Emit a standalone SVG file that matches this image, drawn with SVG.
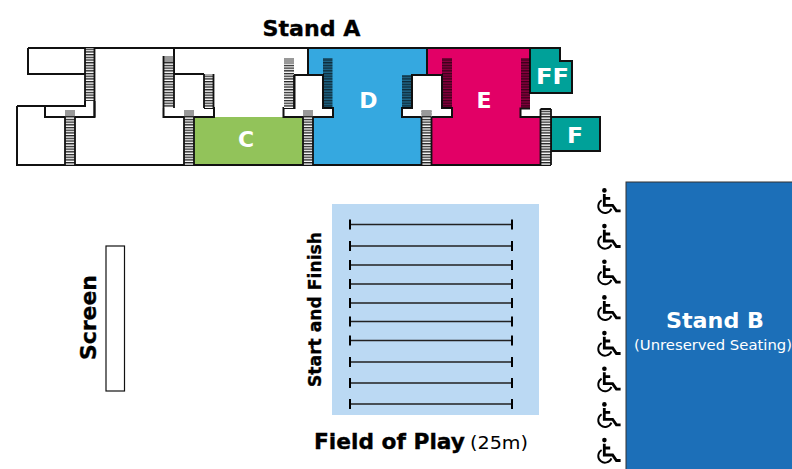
<svg xmlns="http://www.w3.org/2000/svg" width="792" height="469" viewBox="0 0 792 469">
<style>
text{font-family:"DejaVu Sans","Liberation Sans",sans-serif;font-weight:700}
.t{fill:#000;stroke:#000;stroke-width:.35}.w{fill:#fff}
.o{fill:none;stroke:#111;stroke-width:2}
.sw{fill:url(#stw);stroke:none}
.sc{fill:url(#st);stroke:none}
.side{fill:none;stroke:#111;stroke-width:1.8}
.fade{fill:#999}
.lane{stroke:#222;stroke-width:1.7;fill:none}
.tick{stroke:#000;stroke-width:2;fill:none}
</style>
<defs>
<pattern id="st" width="10" height="2.7" patternUnits="userSpaceOnUse"><rect width="10" height="2.7" fill="#000" fill-opacity=".38"/><rect width="10" height="1.3" fill="#000" fill-opacity=".6"/></pattern>
<pattern id="stw" width="10" height="2.7" patternUnits="userSpaceOnUse"><rect width="10" height="2.7" fill="#fff"/><rect width="10" height="1.35" fill="#222"/></pattern>
<symbol id="wc" width="26" height="29" viewBox="0 0 26 29" overflow="visible">
<circle cx="8.4" cy="2.4" r="2.3" fill="#000"/>
<path d="M8.3 6V17.3H16.6L20.4 22.8H24.6M8.3 10.3H14.2" fill="none" stroke="#000" stroke-width="2.8"/>
<path d="M5.6 12.3A6.8 6.8 0 1 0 15.4 20.6" fill="none" stroke="#000" stroke-width="1.9"/>
</symbol>
</defs>
<g id="stand-a-seating">
<g id="block-c"><path d="M194 117H303V165H194Z" fill="#92c35a"/><text class="w" x="246" y="147" font-size="22" text-anchor="middle">C</text></g>
<g id="block-d"><path d="M308 48H427V75H412V108H402V117H422V165H313V117H333V108H323V75H308Z" fill="#35a8e0"/><text class="w" x="368.500" y="108" font-size="22" text-anchor="middle">D</text></g>
<g id="block-e"><path d="M427 48H530V108.500H521V117H540V165H431V117H452V108H442V75H427Z" fill="#e20066"/><text class="w" x="484" y="108" font-size="22" text-anchor="middle">E</text></g>
<g id="block-ff"><path d="M530 48H560V61H572V93H530Z" fill="#00a199" stroke="#111" stroke-width="2"/><text class="w" x="552.500" y="84" font-size="22" text-anchor="middle" textLength="33" lengthAdjust="spacingAndGlyphs">FF</text></g>
<g id="block-f"><path d="M551 117H600V151H551Z" fill="#00a199" stroke="#111" stroke-width="2"/><text class="w" x="575" y="143" font-size="22" text-anchor="middle" textLength="16" lengthAdjust="spacingAndGlyphs">F</text></g>
</g>
<g id="outline">
<path class="o" d="M28 48H530M28 48V74H85M17 106H85V101M17 106V165H551M45 106V117H65M75 117H94.500V101"/>
<path class="o" d="M174 48V74H204M163.500 108V117H184M194 117H214V108H204"/>
<path class="o" d="M308 48V75H294.500V108H283.500V117H303M313 117H333V108H323V75H308"/>
<path class="o" d="M427 48V75H412V108H402V117H421.500M431.500 117H452V108H442V75H427"/>
<path class="o" d="M530 48V93M530 108.500H520.500V117H540"/>
</g>
<g id="stairs">
<rect class="sw" x="85" y="48" width="9.500" height="53"/>
<rect class="sw" x="65" y="110" width="10" height="55"/>
<rect class="sw" x="163.500" y="56" width="10.500" height="52"/>
<rect class="sw" x="204" y="74" width="9.500" height="34"/>
<rect class="sw" x="184" y="110" width="10" height="55"/>
<rect class="sw" x="284" y="58" width="10" height="50"/>
<rect class="sw" x="303" y="110" width="10" height="55"/>
<rect class="sw" x="421.500" y="110" width="10" height="55"/>
<rect class="sw" x="540.500" y="109" width="10.500" height="56"/>
<rect class="sc" x="323" y="58" width="9.500" height="50"/>
<rect class="sc" x="402" y="75" width="10" height="33"/>
<rect class="sc" x="442" y="58" width="10" height="50"/>
<rect class="sc" x="521" y="58" width="9" height="50"/>
<path class="fade" d="M65 110h10v6H65ZM184 110h10v6h-10ZM303 110h10v6h-10ZM421.500 110h10v6h-10ZM164 56h10v6H164ZM284 58h10v5H284Z"/>
<path class="side" d="M85 48V101M94.500 48V117M65 117V165M75 117V165M163.500 56V108M174 48V108M204 74V108M213.500 74V108M184 117V165M194 117V165M294 75V108M303 117V165M313 117V165M323 75V108M412 75V108M421.500 117V165M431.500 117V165M442 75V108M540.500 109V165M551 109V165M540.500 109H551"/>
</g>
<text id="label-stand-a" class="t" x="311.500" y="36" font-size="22" text-anchor="middle" textLength="98" lengthAdjust="spacingAndGlyphs">Stand A</text>
<g id="screen">
<rect x="106" y="246" width="18.500" height="145" fill="#fff" stroke="#111" stroke-width="1.200"/>
<text class="t" transform="translate(96 360) rotate(-90)" font-size="22" textLength="85" lengthAdjust="spacingAndGlyphs">Screen</text>
</g>
<g id="field-of-play">
<rect x="332" y="204" width="207" height="211" fill="#bbd9f3"/>
<path class="lane" d="M350 224.500H512M350 246H512M350 265H512M350 284H512M350 303H512M350 321.500H512M350 340.500H512M350 362H512M350 383H512M350 404H512"/>
<path class="tick" d="M350 219.500v10M512 219.500v10M350 241v10M512 241v10M350 260v10M512 260v10M350 279v10M512 279v10M350 298v10M512 298v10M350 316.500v10M512 316.500v10M350 335.500v10M512 335.500v10M350 357v10M512 357v10M350 378v10M512 378v10M350 399v10M512 399v10"/>
<text class="t" transform="translate(321 387) rotate(-90)" font-size="18" textLength="155" lengthAdjust="spacingAndGlyphs">Start and Finish</text>
<text class="t" x="314" y="449" font-size="22" textLength="151" lengthAdjust="spacingAndGlyphs">Field of Play</text>
<text x="470" y="449" font-size="17" style="font-weight:400" textLength="58" lengthAdjust="spacingAndGlyphs">(25m)</text>
</g>
<g id="stand-b">
<rect x="626" y="182" width="170" height="290" fill="#1c6fb8" stroke="#333" stroke-width="1"/>
<text class="w" x="715" y="328" font-size="22" text-anchor="middle" textLength="98" lengthAdjust="spacingAndGlyphs">Stand B</text>
<text class="w" x="634" y="350" font-size="14" style="font-weight:400" textLength="158" lengthAdjust="spacingAndGlyphs">(Unreserved Seating)</text>
</g>
<g id="wheelchair-spaces">
<use href="#wc" x="596" y="188"/><use href="#wc" x="596" y="223.700"/><use href="#wc" x="596" y="259.300"/><use href="#wc" x="596" y="295"/><use href="#wc" x="596" y="330.700"/><use href="#wc" x="596" y="366.300"/><use href="#wc" x="596" y="402"/><use href="#wc" x="596" y="437.700"/>
</g>
</svg>
